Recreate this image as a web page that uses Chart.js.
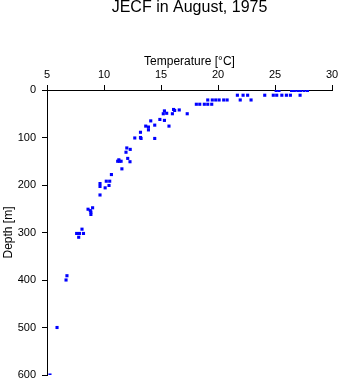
<!DOCTYPE html>
<html>
<head>
<meta charset="utf-8">
<script src="https://cdn.jsdelivr.net/npm/chart.js@4"></script>
<style>
  html, body { margin: 0; padding: 0; background: #fff; }
  #caixa { width: 341px; height: 384px; }
</style>
</head>
<body>
<div id="caixa"><canvas id="perfil" width="341" height="384"></canvas></div>
<script>
// Perfil de temperatura (°C) por profundidade (m)
const temperatura = [
    25.1, 25.35, 26.45, 26.7, 27.0, 27.25, 27.55, 27.85,
    21.7, 22.2, 22.6, 24.1, 24.85, 25.15, 25.6, 26.0, 26.35, 27.2,
    19.1, 19.5, 19.8, 20.1, 20.5, 20.8, 21.95, 22.9,
    18.1, 18.4, 18.8, 19.1, 19.45,
    17.3, 16.6, 16.1, 16.2, 16.0, 15.3, 15.2, 15.5,
    14.9, 15.3, 14.1, 14.45, 15.7, 13.66, 13.9, 13.9,
    13.2, 13.2, 13.25, 12.7, 14.45,
    12.0, 12.3, 11.93, 12.08, 12.28, 11.2, 11.35, 11.5, 11.3, 11.57,
    10.65, 10.2, 10.5, 10.44, 10.1, 9.65, 9.65, 9.65,
    9.0, 8.6, 8.8, 8.85, 8.85,
    8.07, 7.6, 7.85, 8.2, 7.78,
    6.75, 6.67,
    5.88, 5.26
];
const profundidade = [
    1, 1, 1, 1, 1, 1, 1, 1,
    11, 11, 11, 11, 11, 11, 11, 11, 11, 11,
    21, 21, 21, 21, 21, 21, 21, 21,
    30, 30, 30, 30, 30,
    50, 42, 41, 43, 50, 44, 50, 49,
    62, 64, 65, 74, 76, 76, 78, 84,
    89, 100, 102, 101, 102,
    122, 125, 131, 144, 151, 150, 150, 150, 147, 166,
    178, 192, 192, 201, 206, 197, 203, 221,
    248, 251, 254, 257, 262,
    293, 302, 302, 302, 310,
    391, 400,
    500, 600
];
const ticksTemperatura  = [5, 10, 15, 20, 25, 30];
const ticksProfundidade = [0, 100, 200, 300, 400, 500, 600];

const pontos = temperatura.map((t, i) => ({ x: t, y: profundidade[i] }));

// centraliza o título sobre a área do gráfico, não sobre o canvas todo
const tituloNaArea = {
    id: 'tituloNaArea',
    afterLayout(chart) {
        if (chart.titleBlock) {
            chart.titleBlock.left  = chart.chartArea.left;
            chart.titleBlock.right = chart.chartArea.right;
        }
    }
};

const fonte = 'Liberation Sans, Arial, Helvetica, sans-serif';

new Chart(document.getElementById('perfil').getContext('2d'), {
    type: 'scatter',
    data: {
        datasets: [{
            data: pontos,
            backgroundColor: '#0000ff',
            borderWidth: 0,
            pointStyle: 'rect',
            pointRadius: 2.2,
            pointHoverRadius: 2.2
        }]
    },
    options: {
        responsive: false,
        animation: false,
        events: [],
        layout: { padding: { left: 0, right: 9, top: 0, bottom: 9 } },
        plugins: {
            legend:  { display: false },
            tooltip: { enabled: false },
            title: {
                display: true,
                text: 'JECF in August, 1975',
                color: '#000',
                font: { family: fonte, size: 16, weight: 'normal', lineHeight: 1 },
                padding: { top: 0, bottom: 0 }
            }
        },
        scales: {
            x: {
                type: 'linear',
                position: 'top',
                min: 5,
                max: 30,
                afterBuildTicks: s => { s.ticks = ticksTemperatura.map(v => ({ value: v })); },
                // tamanho fixo do eixo; as margens ficam por conta do layout
                afterFit: s => {
                    s.height = 74;
                    s.paddingLeft = 0;
                    s.paddingRight = 0;
                },
                ticks: { color: '#000', font: { family: fonte, size: 11 }, padding: 3 },
                grid: { drawOnChartArea: false, tickLength: 5, tickColor: '#000' },
                border: { color: '#000', width: 1 },
                title: {
                    display: true,
                    text: 'Temperature [°C]',
                    color: '#000',
                    font: { family: fonte, size: 12 },
                    padding: { top: 38, bottom: 0 }
                }
            },
            y: {
                type: 'linear',
                reverse: true,
                min: 0,
                max: 600,
                afterBuildTicks: s => { s.ticks = ticksProfundidade.map(v => ({ value: v })); },
                afterFit: s => {
                    s.width = 47;
                    s.paddingTop = 0;
                    s.paddingBottom = 0;
                },
                ticks: { color: '#000', font: { family: fonte, size: 11 }, padding: 6 },
                grid: { drawOnChartArea: false, tickLength: 5, tickColor: '#000' },
                border: { color: '#000', width: 1 },
                title: {
                    display: true,
                    text: 'Depth [m]',
                    color: '#000',
                    font: { family: fonte, size: 12 },
                    padding: { top: 1, bottom: 0 }
                }
            }
        }
    },
    plugins: [tituloNaArea]
});
</script>
</body>
</html>
